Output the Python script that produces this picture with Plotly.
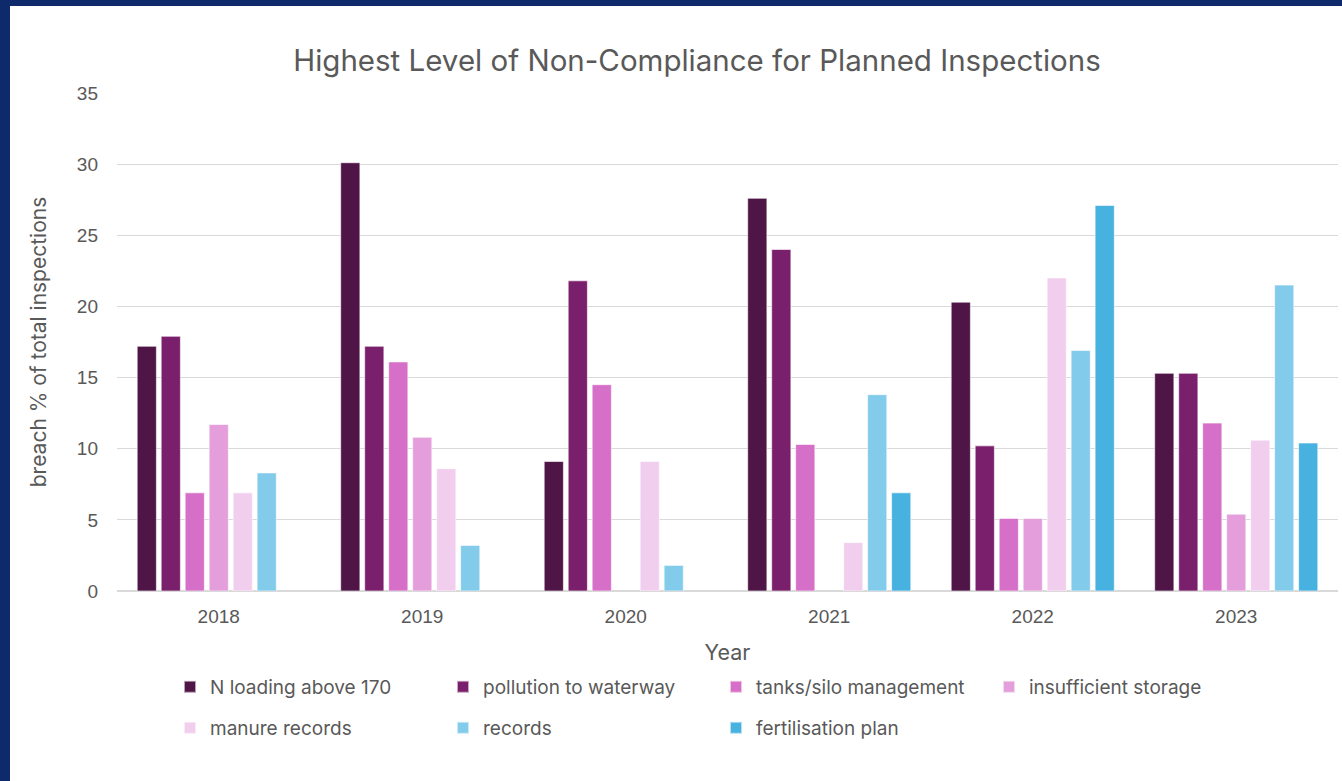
import plotly.graph_objects as go

years = ["2018", "2019", "2020", "2021", "2022", "2023"]
series_names = ["N loading above 170", "pollution to waterway", "tanks/silo management",
                "insufficient storage", "manure records", "records", "fertilisation plan"]
n_loading = [17.2, 30.1, 9.1, 27.6, 20.3, 15.3]
pollution = [17.9, 17.2, 21.8, 24.0, 10.2, 15.3]
tanks_silo = [6.9, 16.1, 14.5, 10.3, 5.1, 11.8]
insufficient_storage = [11.7, 10.8, None, None, 5.1, 5.4]
manure_records = [6.9, 8.6, 9.1, 3.4, 22.0, 10.6]
records = [8.3, 3.2, 1.8, 13.8, 16.9, 21.5]
fertilisation_plan = [None, None, None, 6.9, 27.1, 10.4]

colors = ["#4F1547", "#7A1F6B", "#D66FC8", "#E39EDB", "#F2CEEE", "#83CBEB", "#47B1E0"]
all_values = [n_loading, pollution, tanks_silo, insufficient_storage, manure_records, records, fertilisation_plan]
legend_ids = ["legend", "legend", "legend", "legend", "legend2", "legend2", "legend2"]

W, H = 1342, 781
ml, mr, mt, mb = 117, 4, 93, 190

fig = go.Figure()
for name, vals, c, lg in zip(series_names, all_values, colors, legend_ids):
    fig.add_trace(go.Bar(x=years, y=vals, name=name, marker_color=c, legend=lg,
                         marker_line=dict(color="rgba(255,255,255,0.6)", width=1)))

pw = W - ml - mr
ph = H - mt - mb
def px2paper_x(px):
    return (px - ml) / pw
def px2paper_y(py):
    return (H - mb - py) / ph

font_family = "Inter, Noto Sans, sans-serif"
tick_family = "Liberation Sans, Arial, sans-serif"
grey = "#595959"

legend_common = dict(orientation="h", xanchor="left", yanchor="middle",
                     entrywidth=228, entrywidthmode="pixels", bgcolor="white",
                     font=dict(size=19, color=grey, family=font_family),
                     traceorder="normal", itemsizing="constant")

fig.update_layout(
    width=W, height=H,
    margin=dict(l=ml, r=mr, t=mt, b=mb, pad=0),
    paper_bgcolor="#0E2A6B",
    plot_bgcolor="rgba(0,0,0,0)",
    barmode="group",
    bargap=0.175,
    bargroupgap=0.2,
    font=dict(family=font_family, color=grey, size=16),
    title=dict(text="Highest Level of Non-Compliance for Planned Inspections",
               x=697 / W, xanchor="center", xref="container", y=1 - 61 / H, yanchor="middle",
               font=dict(size=29.5, color=grey, family=font_family)),
    xaxis=dict(title=dict(text="Year", font=dict(size=21.5, color=grey, family=font_family), standoff=19),
               tickfont=dict(size=19, color=grey, family=tick_family), showgrid=False,
               showline=True, linecolor="#D9D9D9", ticks="", ticklabelstandoff=8),
    yaxis=dict(title=dict(text="breach % of total inspections",
                          font=dict(size=21, color=grey, family=font_family), standoff=24),
               range=[0, 35], dtick=5, tickfont=dict(size=19, color=grey, family=tick_family),
               gridcolor="#D9D9D9", gridwidth=1, zeroline=True, zerolinecolor="#D9D9D9",
               ticks="", ticklabelstandoff=18),
    legend=dict(x=px2paper_x(170), y=px2paper_y(687), **legend_common),
    legend2=dict(x=px2paper_x(170), y=px2paper_y(728), **legend_common),
    shapes=[dict(type="rect", xref="paper", yref="paper", layer="below",
                 x0=px2paper_x(10), x1=px2paper_x(W + 5),
                 y0=px2paper_y(H + 5), y1=px2paper_y(6),
                 fillcolor="white", line=dict(width=0))],
)

fig.write_html("out.html", config={"displayModeBar": False},
               post_script="document.body.style.margin='0';")
